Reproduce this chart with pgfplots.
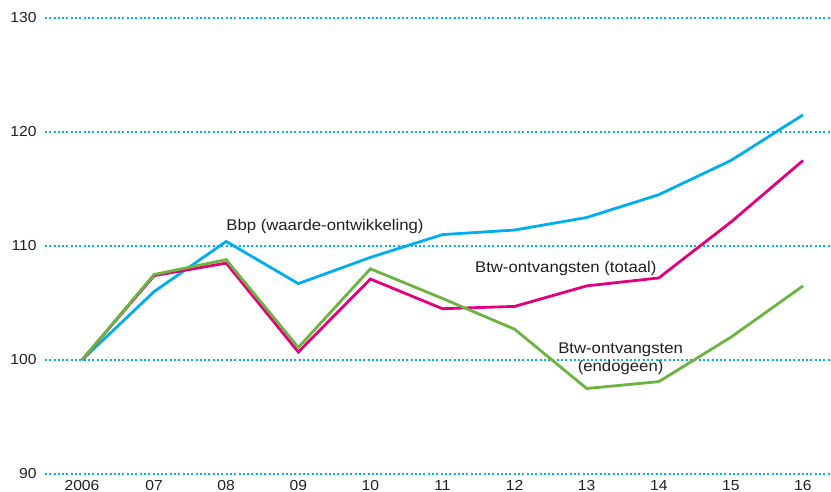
\documentclass[border=0pt]{standalone}
\usepackage{fontspec}
\setmainfont{Liberation Sans}[FakeStretch=1.08]
\usepackage{pgfplots}
\pgfplotsset{compat=1.18}
\definecolor{cy}{RGB}{0,174,239}
\definecolor{mg}{RGB}{228,0,124}
\definecolor{gr}{RGB}{108,179,63}
\definecolor{tx}{RGB}{35,31,32}
\begin{document}
\begin{tikzpicture}[x=1pt,y=1pt]
\useasboundingbox (0,0) rectangle (831,492);
\begin{axis}[at={(45pt,18pt)}, anchor=south west, scale only axis,
  width=786pt, height=456pt,
  xmin=2005.487, xmax=2016.388, ymin=90, ymax=130,
  axis line style={draw=none}, major tick length=0pt,
  ytick={90,100,110,120,130}, ymajorgrids,
  grid style={cy, line width=1.4pt, dash pattern=on 2pt off 2.3pt},
  xtick={2006,...,2016},
  xticklabels={2006,07,08,09,10,11,12,13,14,15,16},
  ticklabel style={font=\fontsize{14.5}{16}\selectfont, text=tx},
  yticklabel style={xshift=-5pt},
  xticklabel style={yshift=-2.5pt},
  /pgf/number format/assume math mode=true,
  clip=false]
\addplot[cy, line width=2.8pt] coordinates {
(2006,100) (2007,106.0) (2008,110.4) (2009,106.7) (2010,109.0) (2011,111.0)
(2012,111.4) (2013,112.5) (2014,114.5) (2015,117.5) (2016,121.5)};
\addplot[mg, line width=2.8pt] coordinates {
(2006,100) (2007,107.4) (2008,108.5) (2009,100.7) (2010,107.1) (2011,104.5)
(2012,104.7) (2013,106.5) (2014,107.2) (2015,112.1) (2016,117.5)};
\addplot[gr, line width=2.8pt] coordinates {
(2006,100) (2007,107.5) (2008,108.8) (2009,101.1) (2010,108.0) (2011,105.4)
(2012,102.7) (2013,97.5) (2014,98.1) (2015,102.0) (2016,106.5)};
\node[text=tx, font=\fontsize{15.5}{18}\selectfont] at (axis cs:2009.37,111.67) {Bbp (waarde-ontwikkeling)};
\node[text=tx, font=\fontsize{15.5}{18}\selectfont] at (axis cs:2012.71,108.07) {Btw-ontvangsten (totaal)};
\node[text=tx, font=\fontsize{15.5}{18}\selectfont, align=center] at (axis cs:2013.47,100.09) {Btw-ontvangsten\\(endogeen)};
\end{axis}
\end{tikzpicture}
\end{document}
